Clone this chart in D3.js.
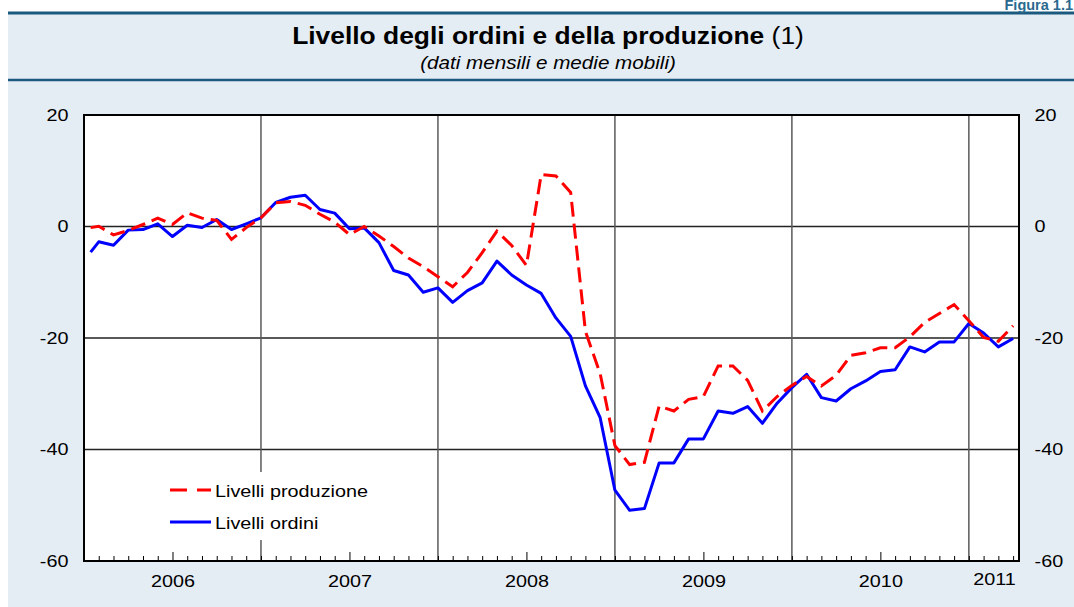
<!DOCTYPE html>
<html>
<head>
<meta charset="utf-8">
<script src="https://cdn.jsdelivr.net/npm/d3@7"></script>
<style>
body { margin: 0; background: #fff; }
svg { display: block; font-family: "Liberation Sans", Arial, sans-serif; }
</style>
</head>
<body>
<svg id="chart" width="1074" height="607"></svg>
<script>
// monthly values, Jan 2006 .. Apr 2011 (first observation drawn a bit right of the axis start)
const years = ["2006", "2007", "2008", "2009", "2010", "2011"];
const yTicks = [20, 0, -20, -40, -60];
const gridValues = [0, -20, -40];

const produzione = [
    -0.2, 0.05, -1.5, -0.7, 0.36, 1.5, 0.36, 2.45, 1.5, 1.1, -2.3, -0.2,
    1.56, 4.25, 4.5, 3.8, 2.2, 0.8, -1.45, 0, -1.7, -3.6, -5.65, -7.2,
    -9.0, -10.8, -8.25, -4.7, -0.84, -3.4, -7.0, 9.3, 9.05, 6.1, -18.8, -26.4,
    -39.3, -42.7, -42.3, -32.2, -33.1, -31.0, -30.5, -25.0, -25.0, -27.6, -33.1, -30.5,
    -28.5, -26.9, -28.6, -26.7, -23.1, -22.65, -21.75, -21.75, -19.8, -17.2, -15.6, -14.0,
    -16.9, -19.9, -20.6, -17.8
];
const ordini = [
    -4.6, -2.75, -3.35, -0.65, -0.55, 0.48, -1.8, 0.23, -0.18, 1.26, -0.54, 0.48,
    1.56, 4.3, 5.25, 5.6, 3.05, 2.4, -0.4, -0.25, -2.9, -7.9, -8.7, -11.8,
    -11.0, -13.6, -11.5, -10.1, -6.2, -8.7, -10.5, -12.0, -16.4, -19.7, -28.6, -34.3,
    -47.3, -50.9, -50.6, -42.4, -42.4, -38.1, -38.1, -33.1, -33.5, -32.3, -35.3, -31.7,
    -28.9, -26.5, -30.7, -31.3, -29.1, -27.7, -26.0, -25.7, -21.6, -22.5, -20.7, -20.7,
    -17.4, -19.1, -21.6, -20.1
];
const firstOffset = 0.45; // month position of the first observation

const SX = 1.2; // text in the original is stretched horizontally

const svg = d3.select("#chart");
const W = 1074, H = 607;
const plot = {left: 84, right: 1019, top: 115, bottom: 561};

let monthPos = function(i) { return i === 0 ? firstOffset : i; };

const x = d3.scaleLinear().domain([0, 63.4]).range([plot.left, plot.right]);
const y = d3.scaleLinear().domain([-60, 20]).range([plot.bottom, plot.top]);

// panel
svg.append("rect").attr("x", 8).attr("y", 12).attr("width", W - 8).attr("height", H - 12)
    .attr("fill", "#e5edf4");
svg.append("line").attr("x1", 8).attr("x2", W).attr("y1", 13).attr("y2", 13)
    .attr("stroke", "#1a5a7e").attr("stroke-width", 3);
svg.append("line").attr("x1", 8).attr("x2", W).attr("y1", 80).attr("y2", 80)
    .attr("stroke", "#1a5a7e").attr("stroke-width", 2.5);

let stretchText = function(sel, px, py, sx) {
    sel.attr("transform", "translate(" + px + "," + py + ") scale(" + (sx || SX) + ",1)");
};

svg.append("text").attr("text-anchor", "end")
    .style("font-size", "14.5px").style("font-weight", "bold").attr("fill", "#2a6a8e")
    .text("Figura 1.1")
    .call(stretchText, 1073, 10, 1);

let title = svg.append("text").attr("text-anchor", "middle").style("font-size", "24px")
    .call(stretchText, 548, 44, 1.1);
title.append("tspan").style("font-weight", "bold").text("Livello degli ordini e della produzione");
title.append("tspan").text(" (1)");

svg.append("text").attr("text-anchor", "middle")
    .style("font-size", "17.5px").style("font-style", "italic")
    .text("(dati mensili e medie mobili)")
    .call(stretchText, 548, 69, 1.18);

// plot area
svg.append("rect").attr("x", plot.left).attr("y", plot.top)
    .attr("width", plot.right - plot.left).attr("height", plot.bottom - plot.top)
    .attr("fill", "#fff");

svg.append("g").selectAll("line").data(gridValues).join("line")
    .attr("x1", plot.left).attr("x2", plot.right)
    .attr("y1", d => y(d)).attr("y2", d => y(d))
    .attr("stroke", "#222").attr("stroke-width", 1.5);

svg.append("g").selectAll("line").data([12, 24, 36, 48, 60]).join("line")
    .attr("x1", d => x(d)).attr("x2", d => x(d))
    .attr("y1", plot.top).attr("y2", plot.bottom)
    .attr("stroke", "#5a5a5a").attr("stroke-width", 1.5);

// month ticks
let tickAxis = svg.append("g").attr("transform", "translate(0," + plot.bottom + ")")
    .call(d3.axisBottom(x).tickValues(d3.range(1, 64)).tickSize(-5).tickFormat(""));
tickAxis.select(".domain").remove();
tickAxis.selectAll(".tick line")
    .attr("y2", d => (d % 12 === 6 ? -9 : -5))
    .attr("stroke", "#000").attr("stroke-width", 1);

// year labels
const yearPos = [6, 18, 30, 42, 54, (60 + 63.4) / 2];
let yearAxis = svg.append("g").attr("transform", "translate(0," + plot.bottom + ")")
    .call(d3.axisBottom(x).tickValues(yearPos).tickSize(0).tickPadding(14)
        .tickFormat((d, i) => years[i]));
yearAxis.select(".domain").remove();
yearAxis.selectAll("text").style("font-size", "16.5px").attr("fill", "#000")
    .attr("transform", "scale(" + SX + ",1)");
yearAxis.selectAll(".tick").filter((d, i) => i === 5).select("text").attr("y", 12);

// y axes on both sides (plain hyphen for the minus sign, as in the original)
let yFormat = d => String(d);
let leftAxis = svg.append("g").attr("transform", "translate(" + plot.left + ",0)")
    .call(d3.axisLeft(y).tickValues(yTicks).tickSize(0).tickPadding(13).tickFormat(yFormat));
let rightAxis = svg.append("g").attr("transform", "translate(" + plot.right + ",0)")
    .call(d3.axisRight(y).tickValues(yTicks).tickSize(0).tickPadding(13).tickFormat(yFormat));
[leftAxis, rightAxis].forEach(function(a) {
    a.select(".domain").remove();
    a.selectAll("text").style("font-size", "16.5px").attr("fill", "#000")
        .attr("transform", "scale(" + SX + ",1)");
});

// series
svg.append("clipPath").attr("id", "clip").append("rect")
    .attr("x", plot.left).attr("y", plot.top)
    .attr("width", plot.right - plot.left).attr("height", plot.bottom - plot.top);

let line = d3.line().x((d, i) => x(monthPos(i))).y(d => y(d));

svg.append("path").datum(ordini).attr("clip-path", "url(#clip)")
    .attr("d", line).attr("fill", "none")
    .attr("stroke", "#0000ff").attr("stroke-width", 3).attr("stroke-linejoin", "round");

svg.append("path").datum(produzione).attr("clip-path", "url(#clip)")
    .attr("d", line).attr("fill", "none")
    .attr("stroke", "#ff0000").attr("stroke-width", 3).attr("stroke-dasharray", "15,7");

// legend
let legend = svg.append("g");
legend.append("rect").attr("x", 160).attr("y", 472).attr("width", 218).attr("height", 68)
    .attr("fill", "#fff");
const legendItems = [
    {label: "Livelli produzione", color: "#ff0000", dash: "17,10", y: 490},
    {label: "Livelli ordini", color: "#0000ff", dash: null, y: 522}
];
legendItems.forEach(function(it) {
    legend.append("line").attr("x1", 170).attr("x2", 211).attr("y1", it.y).attr("y2", it.y)
        .attr("stroke", it.color).attr("stroke-width", 3)
        .attr("stroke-dasharray", it.dash);
    legend.append("text").style("font-size", "16.5px").text(it.label)
        .call(stretchText, 215, it.y + 7);
});

// border on top
svg.append("rect").attr("x", plot.left).attr("y", plot.top)
    .attr("width", plot.right - plot.left).attr("height", plot.bottom - plot.top)
    .attr("fill", "none").attr("stroke", "#000").attr("stroke-width", 2);
</script>
</body>
</html>
